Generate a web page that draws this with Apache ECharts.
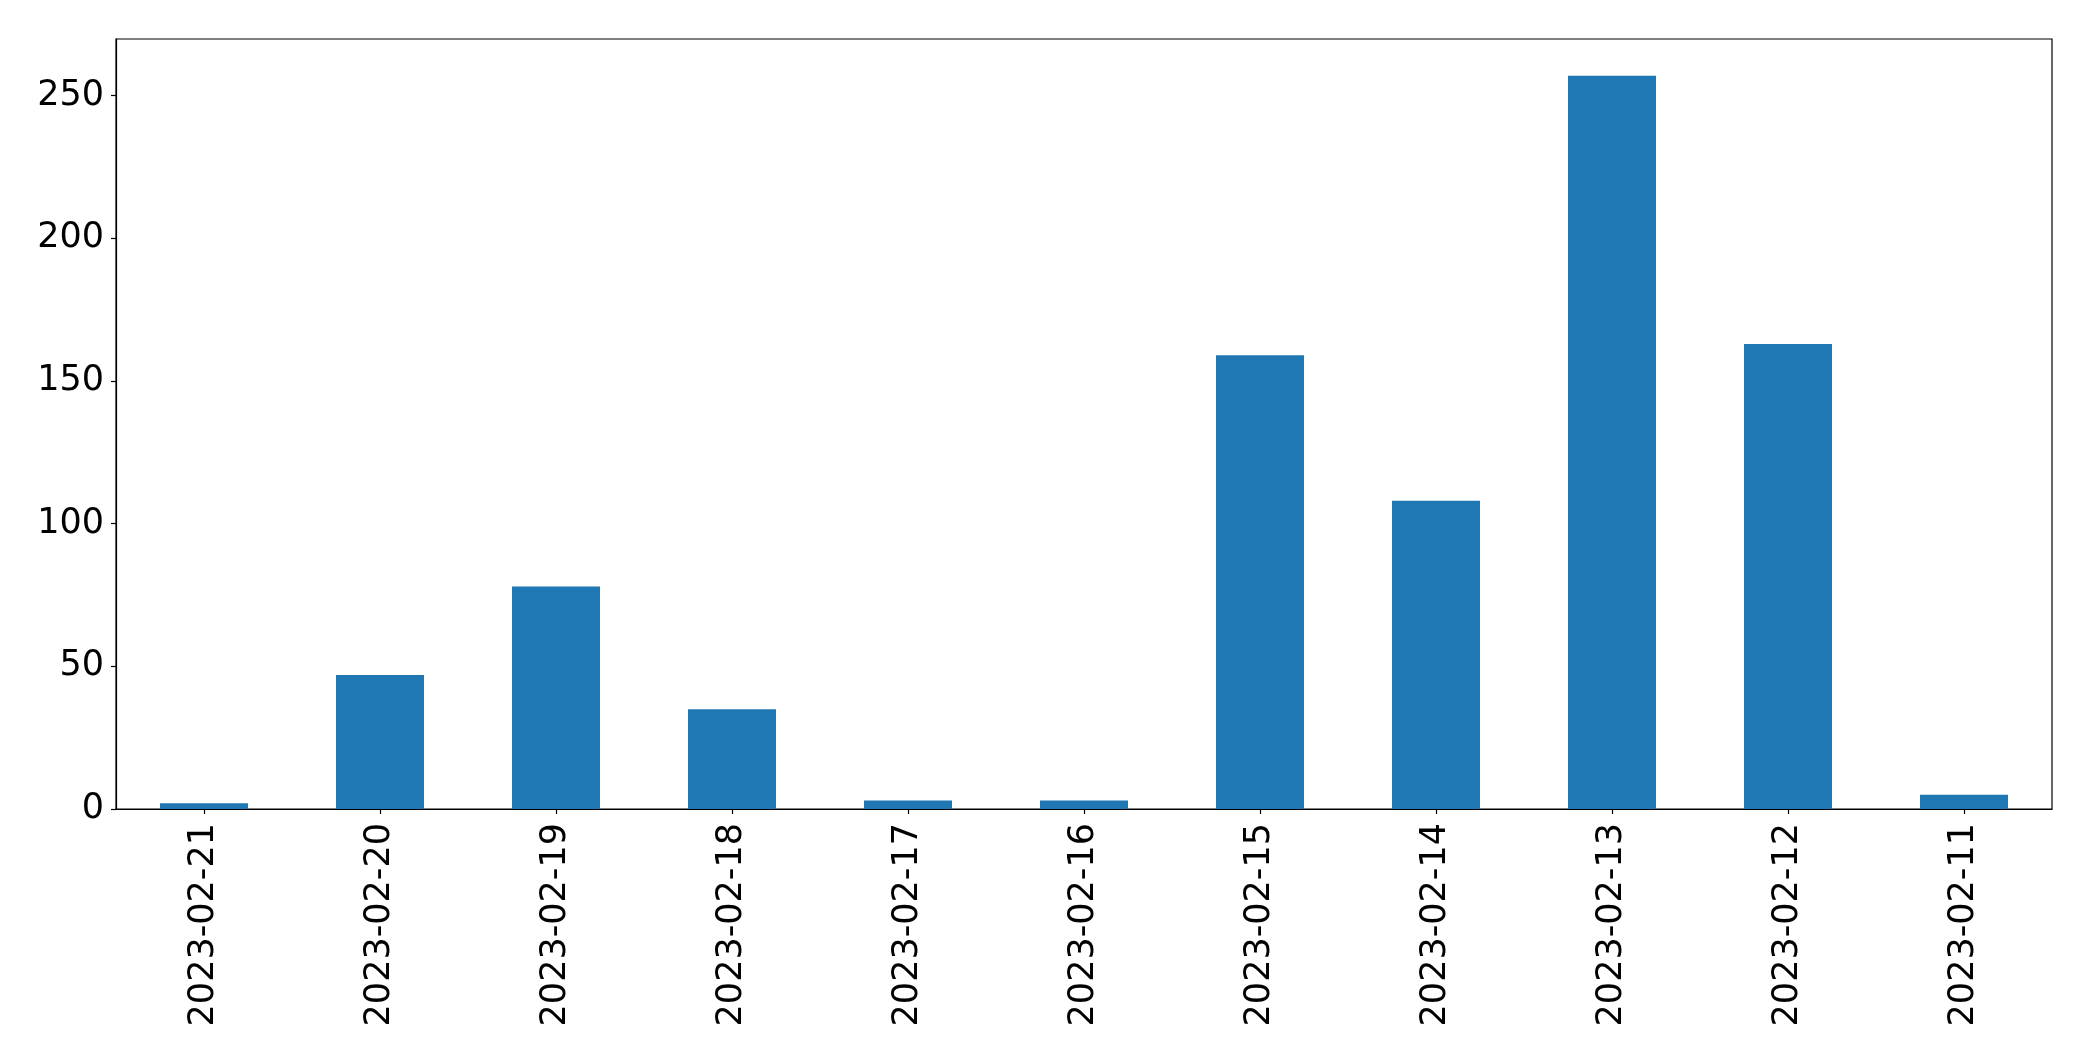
<!DOCTYPE html>
<html>
<head>
<meta charset="utf-8">
<script src="https://cdn.jsdelivr.net/npm/echarts@6/dist/echarts.min.js"></script>
<style>
  html, body { margin: 0; padding: 0; background: #ffffff; }
  #chart { width: 2093px; height: 1061px; }
</style>
</head>
<body>
<div id="chart"></div>
<script>
const categories = ["2023-02-21", "2023-02-20", "2023-02-19", "2023-02-18", "2023-02-17", "2023-02-16", "2023-02-15", "2023-02-14", "2023-02-13", "2023-02-12", "2023-02-11"];
const counts = [2, 47, 78, 35, 3, 3, 159, 108, 257, 163, 5];
const yTicks = [0, 50, 100, 150, 200, 250];

const chart = echarts.init(document.getElementById('chart'), null, { renderer: 'canvas' });
const font = 'DejaVu Sans';
chart.setOption({
  animation: false,
  backgroundColor: '#ffffff',
  grid: {
    left: 116, top: 39, width: 1936, height: 770,
    show: true, borderColor: '#000000', borderWidth: 1.2, backgroundColor: 'transparent'
  },
  xAxis: {
    type: 'category',
    data: categories,
    axisLine: { show: true, lineStyle: { color: '#000000', width: 1.2 } },
    axisTick: { show: true, alignWithLabel: true, length: 5, lineStyle: { color: '#000000', width: 1.2 } },
    axisLabel: { rotate: 90, fontFamily: font, fontSize: 35, color: '#000000', margin: 14, interval: 0 },
    splitLine: { show: false }
  },
  yAxis: {
    type: 'value',
    min: 0,
    max: 269.85,
    interval: 50,
    axisLine: { show: true, lineStyle: { color: '#000000', width: 1.2 } },
    axisTick: { show: true, length: 5, lineStyle: { color: '#000000', width: 1.2 } },
    axisLabel: {
      fontFamily: font, fontSize: 35, color: '#000000', margin: 12, showMaxLabel: false,
      formatter: function (v) { return yTicks.indexOf(v) >= 0 ? String(v) : ''; }
    },
    splitLine: { show: false }
  },
  series: [{
    type: 'bar',
    data: counts,
    barWidth: '50%',
    itemStyle: { color: '#1f77b4' }
  }]
});
</script>
</body>
</html>
